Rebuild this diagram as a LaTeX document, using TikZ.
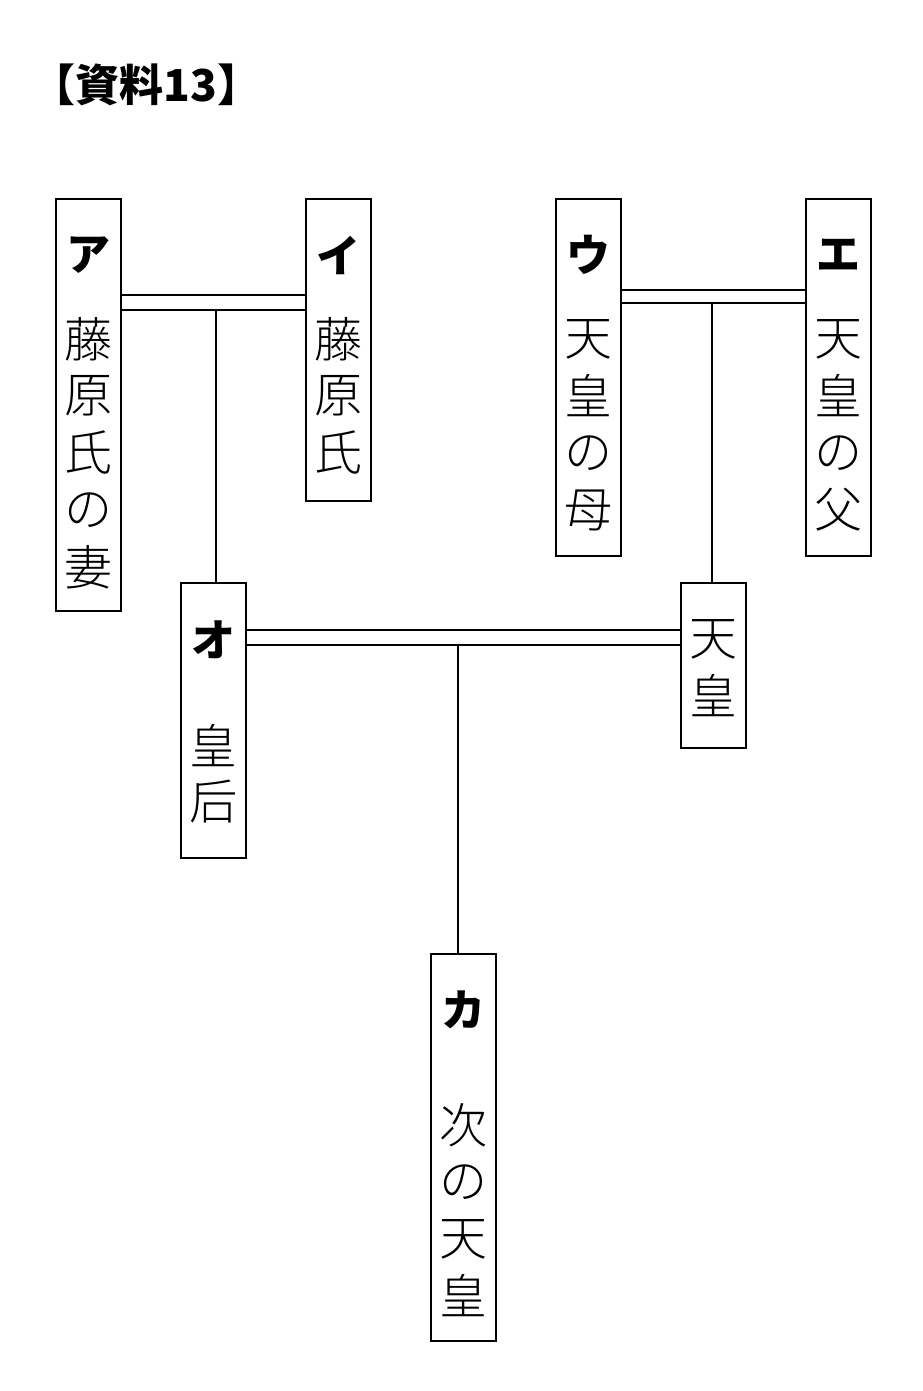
\documentclass[tikz,border=0pt]{standalone}
\usepackage{fontspec}
\newfontfamily\jp{Noto Sans CJK JP}
\newfontfamily\jpl{Noto Sans CJK JP Light}
\begin{document}
\begin{tikzpicture}[x=1pt,y=-1pt,
 box/.style={draw,line width=2pt,inner sep=0pt,anchor=north west},
 kana/.style={font=\jp\bfseries\fontsize{44}{44}\selectfont},
 kanji/.style={font=\jpl\fontsize{48}{48}\selectfont},
 ln/.style={line width=1.5pt}]
\useasboundingbox (0,0) rectangle (922,1391);
\node[font=\jp\bfseries\fontsize{44}{44}\selectfont,anchor=west] (title) at (28,85) {【資料13】};
\newcommand\bx[5]{\node[box,minimum width=65pt,minimum height=#5pt] (#1) at (#2,#3) {};}
\bx{A}{55}{198}{x}{412}
\bx{I}{305}{198}{x}{302}
\bx{U}{555}{198}{x}{357}
\bx{E}{805}{198}{x}{357}
\bx{O}{180}{582}{x}{275}
\bx{T}{680}{582}{x}{165}
\bx{K}{430}{953}{x}{387}
% text
\node[kana] (a0) at (88,255) {ア};
\foreach \c [count=\i] in {藤,原,氏,の,妻} \node[kanji] at (88,282+\i*57) {\c};
\node[kana] (i0) at (338,255) {イ};
\foreach \c [count=\i] in {藤,原,氏} \node[kanji] at (338,282+\i*57) {\c};
\node[kana] (u0) at (588,255) {ウ};
\foreach \c [count=\i] in {天,皇,の,母} \node[kanji] at (588,282+\i*57) {\c};
\node[kana] (e0) at (838,255) {エ};
\foreach \c [count=\i] in {天,皇,の,父} \node[kanji] at (838,282+\i*57) {\c};
\node[kana] (o0) at (213,640) {オ};
\foreach \c [count=\i] in {皇,后} \node[kanji] at (213,690+\i*56) {\c};
\foreach \c [count=\i] in {天,皇} \node[kanji] at (713,582+\i*57) {\c};
\node[kana] (k0) at (463,1010) {カ};
\foreach \c [count=\i] in {次,の,天,皇} \node[kanji] at (463,1068+\i*57) {\c};
% connectors
\draw[ln] (A.east|-0,295) -- (I.west|-0,295);
\draw[ln] (A.east|-0,310) -- (I.west|-0,310);
\draw[ln] (U.east|-0,290) -- (E.west|-0,290);
\draw[ln] (U.east|-0,303) -- (E.west|-0,303);
\draw[ln] (O.east|-0,630) -- (T.west|-0,630);
\draw[ln] (O.east|-0,645) -- (T.west|-0,645);
\draw[ln] (O.north-|216,0) -- (216,310);
\draw[ln] (T.north-|712,0) -- (712,303);
\draw[ln] (K.north-|458,0) -- (458,645);
\end{tikzpicture}
\end{document}
